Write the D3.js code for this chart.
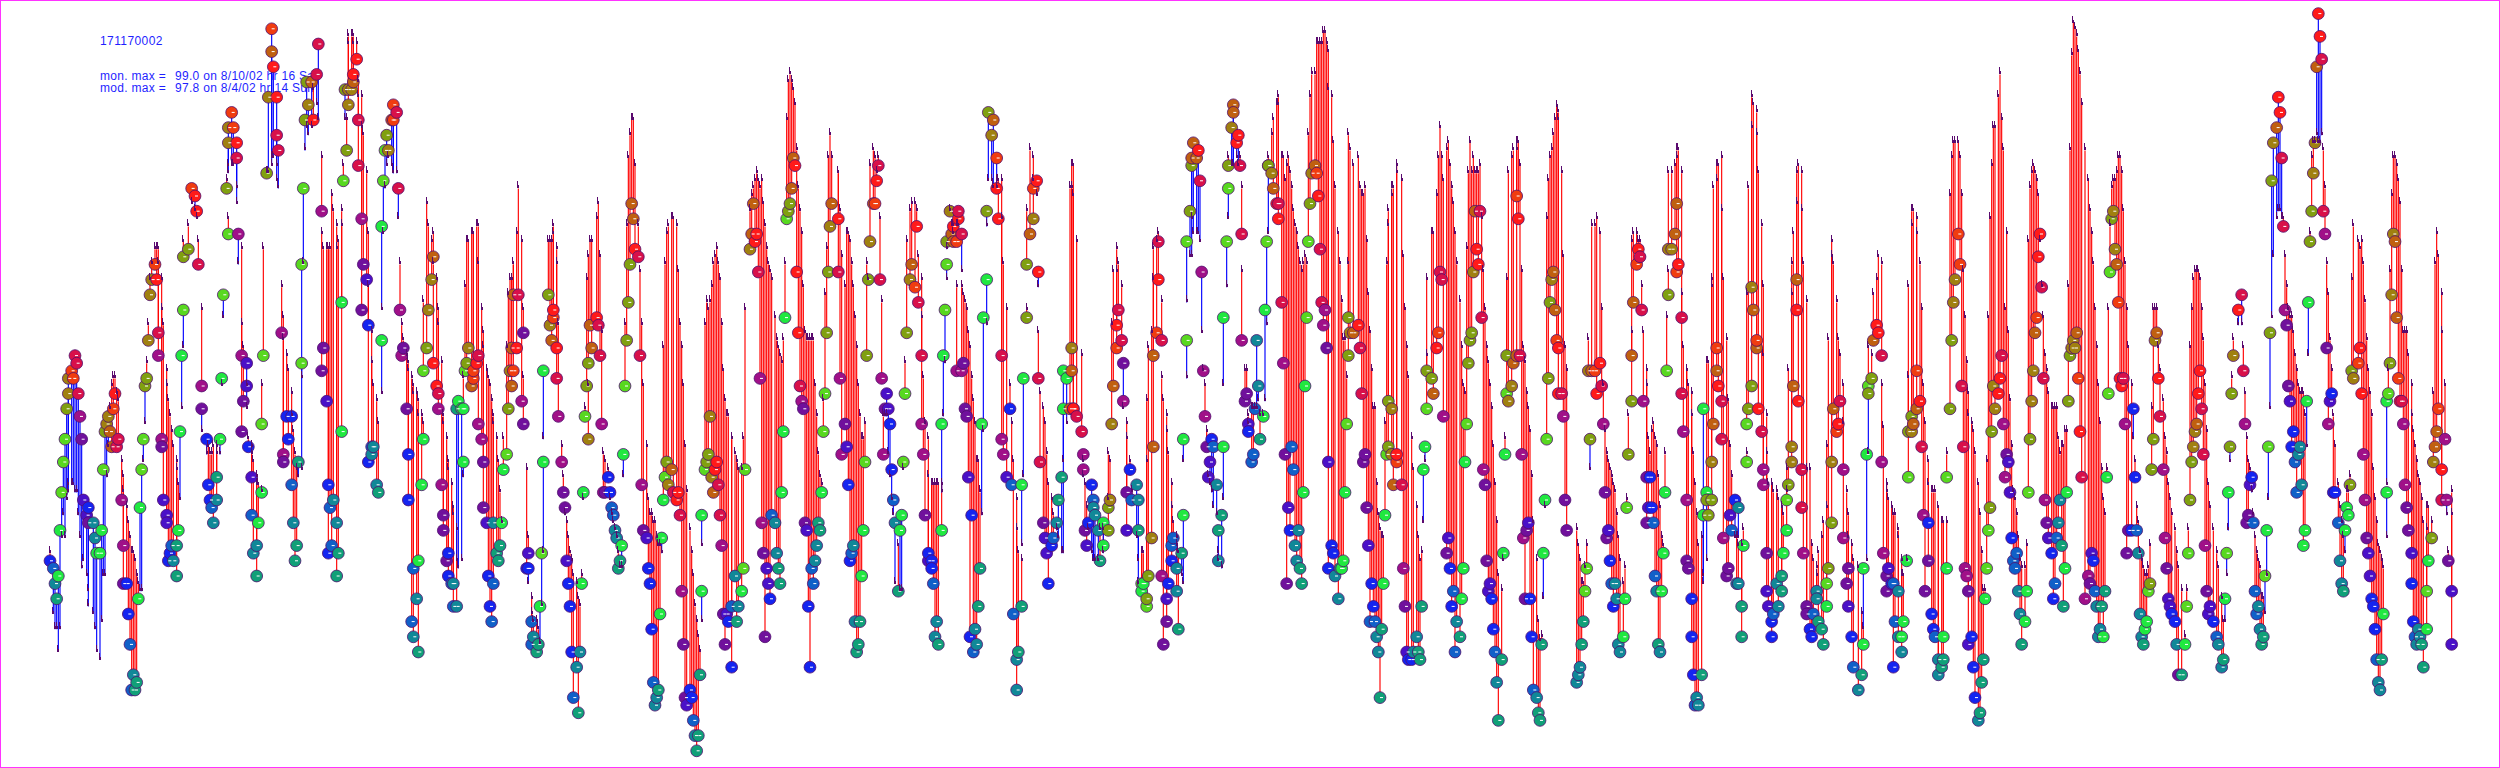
<!DOCTYPE html>
<html>
<head>
<meta charset="utf-8">
<script src="https://cdnjs.cloudflare.com/ajax/libs/d3/7.8.5/d3.min.js"></script>
<style>
html, body { margin: 0; padding: 0; background: #fff; }
svg { display: block; }
</style>
</head>
<body>
<svg id="chart"></svg>
<script>
var CONFIG = {
    "width": 2500,
    "height": 768,
    "hour_max": 1500,
    "dot_radius": 5.9,
};

var siteId = "171170002";
var maxLabels = ["mon. max =", "mod. max ="];
var maxValues = ["99.0 on 8/10/02 hr 16 Sat", "97.8 on 8/4/02 hr 14 Sun"];

// tone of each dot, one letter per hour
var toneNames = ["r", "c", "m", "p", "v", "b", "a", "t", "s", "g", "l", "y", "k", "n", "o"];
var toneColors = ["#ff1a1a", "#d8104a", "#a01088", "#70109c", "#4a10c8", "#1424f0", "#1060c8", "#108898", "#10a078", "#20e840", "#58d820", "#80a010", "#a08010", "#c06010", "#f03c10"];

var hoursA = [30,32,33,34,35,36,37,38,39,40,
    41,41,43,44,45,46,47,48,49,50,
    52,53,53,56,57,58,60,61,62,63,
    64,65,66,67,68,69,70,71,73,74,
    74,76,77,78,79,80,81,82,83,84,
    85,86,87,88,89,90,91,93,94,95,
    95,97,97,98,100,100,101,102,103,104,
    106,106,107,108,109,110,110,113,115,117,
    118,119,121,121,124,125,126,127,128,130,
    130,132,133,134,136,137,137,137,139,140,
    142,142,143,145,145,146,148,148,149,151,
    151,152,154,154,155,157,157,158,160,161,
    163,163,164,166,166,167];
var obsA = [27,26,24,22,25,31,36,40,43,47,
    49,51,52,51,54,53,49,46,43,35,
    33,34,32,32,30,28,28,31,39,44,
    45,46,44,42,47,49,42,43,35,29,
    24,24,20,16,10,12,10,11,22,34,
    39,43,50,51,56,62,64,66,64,57,
    54,43,42,35,33,32,27,28,29,27,
    25,29,31,44,54,60,67,68,76,75,
    73,66,50,47,43,37,35,34,32,35,
    38,43,51,62,76,70,82,84,86,84,
    82,80,70,54,44,48,53,50,42,38,
    33,28,29,25,32,36,45,54,78,88,
    94,97,92,88,83,81];
var modA = [28,20,18,18,15,18,30,33,30,35,
    36,37,37,37,36,36,33,30,26,27,
    25,23,21,20,18,15,14,19,25,25,
    38,42,47,50,51,51,49,48,40,38,
    36,34,32,30,28,28,27,25,24,23,
    23,40,45,53,58,64,66,68,68,68,
    66,64,60,58,52,50,48,46,44,42,
    40,39,37,35,47,55,69,71,74,73,
    72,69,60,44,41,42,41,41,42,42,
    41,41,50,59,77,72,78,79,79,79,
    76,74,66,68,58,55,50,47,43,42,
    41,40,38,37,37,36,50,68,78,78,
    79,80,80,79,77,76];
var toneA = "batsggllly" + "kkoocccmpv" + "vbpttgggly" + "kknnorccmm" + "pbbaatssgg" + "llyykkkorc" + "mmpvvvbbat" + "ssggglyyor" + "rcmpbbbatt" + "sgglylkkoo" + "rcmmppvvbv" + "attsggllyk" + "norrcc";

var hoursB = [169,170,170,172,173,175,175,176,177,178,
    179,181,181,182,183,184,185,187,188,190,
    191,193,193,194,196,197,197,198,199,200,
    202,202,203,205,205,206,207,208,209,209,
    211,212,212,214,215,215,217,217,218,220,
    221,221,223,223,224,226,227,229,229,230,
    231,232,233,235,236,236,238,239,240,241,
    242,244,245,245,247,248,248,250,251,251,
    253,254,254,256,257,259,260,260,262,263,
    263,265,266,266,268,269,269,271,272,272,
    274,274,275,277,278,278,279,280,281,283,
    284,284,286,287,287,289,290,290,292,293,
    294,295,296,296,298,299,300,301,302,304,
    305,306,307,307,308,308,310,311,313,314,
    314,316,317,317,319,319,320,322,323,324,
    325,326,326,329,330,331,332,332,334,334,
    335];
var obsB = [57,41,40,46,43,46,37,32,27,29,
    40,53,66,76,85,90,87,90,85,91,
    95,73,52,55,48,37,28,34,29,35,
    32,25,28,44,61,77,89,81,89,87,
    89,90,91,93,85,79,72,60,66,64,
    58,40,42,41,42,37,36,56,71,77,
    81,83,81,85,87,85,86,76,60,54,
    55,47,41,35,19,26,17,22,15,27,
    37,43,52,55,60,64,67,53,50,49,
    47,37,33,31,27,25,28,24,21,24,
    21,47,48,47,40,47,52,53,55,50,
    51,52,53,54,45,43,40,34,32,25,
    21,19,24,32,28,27,29,32,39,41,
    47,52,50,55,62,52,55,62,48,57,
    45,26,28,26,19,16,17,15,16,21,
    28,40,52,62,58,56,59,60,55,51,
    46];
var modB = [63,59,56,54,52,49,46,44,41,39,
    38,39,51,66,81,84,83,84,89,87,
    85,80,70,68,68,68,68,68,75,73,
    71,68,69,71,73,79,85,85,96,95,
    96,96,95,95,90,88,88,84,83,78,
    70,63,57,53,50,48,45,49,60,70,
    76,79,80,79,78,78,78,72,66,58,
    56,54,53,52,51,50,49,49,48,46,
    46,45,61,74,71,69,70,66,64,60,
    58,53,46,45,43,40,39,37,34,33,
    31,27,26,27,38,51,63,69,69,70,
    70,70,71,71,66,60,57,55,52,51,
    50,48,46,45,43,40,36,32,43,55,
    62,64,64,64,66,66,70,76,69,60,
    51,39,30,24,22,20,19,19,18,16,
    21,28,43,69,69,69,70,71,68,66,
    58];
var toneB = "mmpbbbatss" + "slllyyknrc" + "cmppvbbaat" + "tssgglyykk" + "knrrccmppv" + "bbatttsggl" + "lyknooccmm" + "ppbbaattsg" + "gglykknrrc" + "mmpppbbaat" + "tsgggglykn" + "oorcmmppvb" + "baatsssggl" + "yknnnorcmp" + "pbvbaatssg" + "lggyknorrc" + "m";

var hoursC = [337,338,339,340,341,342,343,344,346,347,
    348,349,350,351,352,353,353,354,355,358,
    359,360,361,362,363,365,366,367,368,369,
    370,371,372,373,374,375,376,377,378,379,
    380,381,383,384,385,386,388,389,390,391,
    392,393,394,395,396,397,398,399,400,401,
    403,404,406,407,408,409,410,411,412,414,
    415,416,417,418,419,420,421,421,423,424,
    425,426,427,428,429,430,431,432,433,434,
    435,436,437,439,439,441,442,443,445,446,
    447,450,451,452,453,454,455,456,457,458,
    459,460,461,462,463,465,466,467,468,469,
    470,471,472,473,474,475,476,477,478,479,
    480,481,482,483,484,485,486,487,488,489,
    490,491,492,493,494,495,496,497,498,499];
var obsC = [40,36,34,27,24,21,15,9,13,7,
    15,24,36,46,50,53,43,58,55,59,
    58,54,45,36,36,38,36,34,33,31,
    30,26,27,29,41,50,56,61,66,74,
    72,68,67,54,37,31,30,26,24,18,
    11,8,9,10,20,30,35,38,40,37,
    39,36,35,36,33,23,16,9,8,10,
    9,6,4,2,4,12,23,33,39,40,
    41,46,38,36,39,40,37,33,29,20,
    16,20,19,21,13,25,19,21,23,26,
    39,68,70,74,69,70,65,51,32,28,
    17,26,24,22,33,32,28,26,24,36,
    44,59,72,73,74,76,80,79,65,57,
    50,48,47,32,31,21,13,26,24,27,
    29,32,31,36,44,49,57,65,71,74];
var modC = [42,38,33,32,30,28,27,25,24,22,
    21,25,35,47,64,67,50,69,69,72,
    74,67,57,41,40,39,35,33,32,31,
    30,28,26,26,38,58,71,80,83,85,
    85,79,71,65,58,50,42,35,33,33,
    32,32,30,29,29,28,55,66,70,71,
    72,72,71,65,58,55,50,42,36,31,
    28,25,21,19,17,15,19,29,58,61,
    60,61,63,66,67,68,66,64,58,52,
    48,46,46,43,43,41,40,39,39,43,
    60,73,75,76,77,78,77,76,77,74,
    71,68,66,65,64,59,56,55,54,53,
    56,66,85,90,91,90,89,87,81,76,
    73,70,63,57,56,56,56,56,56,50,
    46,41,38,37,48,62,68,80,83,80];
var toneC = "mppvbbbats" + "tgglyyknnr" + "ccmmpbbaat" + "tssgglyyyn" + "nrccmpvbbb" + "attsggglyk" + "ncrrcmppvb" + "batsssggly" + "ykknrrccmp" + "pvbabtstgl" + "lknnrrcmmp" + "pvvbattssg" + "gglyynnrrr" + "cmppvbbaat" + "tssgllyykn";

var hoursD = [503,503,504,505,507,508,509,510,511,512,
    513,514,515,516,517,518,519,520,521,522,
    524,525,526,527,528,529,530,531,532,533,
    534,535,536,537,539,540,541,542,543,544,
    546,547,549,550,551,553,553,554,555,557,
    557,559,559,560,561,562,563,565,565,566,
    567,568,568,570,571,572,572,574,575,575,
    577,574,577,578,579,580,581,582,583,584,
    585,586,587,588,589,590,592,592,593,595,
    596,598,598,599,601,601,602,604,606,607,
    608,610,610,611,613,613,614,616,616,618,
    620,620,622,623,623,624,626,627,628,629,
    631,632,634,635,637,638,638,640,642,643,
    643,644,644,646,649,650,650,651,652,653,
    655,656,656,657,659,660,662,662,665,665,
    666,667];
var obsD = [72,65,51,41,45,42,37,27,28,29,
    19,15,16,19,25,31,40,54,64,69,
    74,74,77,79,64,51,41,47,49,47,
    45,39,35,32,23,31,33,40,49,57,
    64,66,63,71,61,54,45,41,33,27,
    28,27,26,24,17,19,16,31,45,54,
    60,66,69,73,70,69,71,69,72,73,
    70,52,52,53,47,46,38,17,33,15,
    18,16,21,26,45,59,64,73,86,83,
    85,80,76,72,54,43,41,38,47,37,
    20,14,10,15,21,37,51,59,66,70,
    72,76,77,65,51,40,32,30,28,24,
    29,30,32,35,38,47,52,51,47,55,
    52,47,47,46,44,41,39,31,29,32,
    37,35,34,33,31,27,29,32,34,31,
    35,45];
var modD = [78,78,73,67,63,70,70,69,66,63,
    59,55,50,46,43,43,45,66,64,79,
    81,80,78,80,72,61,46,46,46,41,
    38,35,33,24,29,23,23,39,53,69,
    73,74,74,73,67,64,59,51,45,43,
    38,37,37,37,37,37,37,37,36,46,
    53,64,68,73,71,70,71,71,71,71,
    65,63,63,62,61,60,57,55,51,48,
    45,40,40,36,33,44,58,71,77,77,
    76,76,77,77,77,72,66,60,50,45,
    40,35,31,28,27,29,38,60,73,81,
    80,77,75,63,57,49,47,45,41,37,
    35,33,31,30,28,28,40,45,76,76,
    79,79,75,69,54,40,38,37,34,31,
    28,27,27,27,27,31,31,28,35,41,
    40,58];
var toneD = "rcmmpvbbat" + "tsssgglyyk" + "norccmmpvv" + "bbatsgglly" + "knorccmmpv" + "bbbattsggg" + "llyknnrorc" + "cmmpppvbba" + "ttssgggyyk" + "norrcmmvba" + "attssggyyn" + "korrccpvvb" + "batssgggnk" + "nnrccmmpvb" + "batttsggyy" + "kk";

var hoursE = [668,670,670,671,673,674,674,676,676,678,
    679,682,683,683,685,685,686,688,688,689,
    691,692,692,694,695,695,697,697,698,700,
    700,701,703,703,704,706,706,707,709,710,
    710,712,712,714,715,715,716,718,719,720,
    721,722,723,724,725,726,727,728,730,731,
    731,733,734,734,736,737,737,739,740,740,
    742,743,744,745,745,747,748,749,749,751,
    752,753,754,755,756,758,759,760,761,761,
    763,764,766,767,767,769,770,771,772,773,
    774,775,776,777,778,779,780,781,782,783,
    784,785,786,787,789,790,791,792,793,794,
    795,796,797,797,799,800,801,803,804,805,
    806,807,808,809,809,810,812,815,816,817,
    818,819,820,821,822,823,824,825,826,827,
    828,829,830,831,832,833,833,835];
var obsE = [50,55,58,60,56,53,48,36,31,39,
    35,37,35,31,24,23,24,21,22,25,
    30,42,54,57,64,69,56,25,16,19,
    22,24,27,29,30,26,23,18,28,33,
    43,56,69,73,79,80,82,80,81,77,
    65,52,46,42,38,40,43,42,37,27,
    31,33,42,59,69,76,79,84,87,86,
    82,83,79,70,56,48,49,45,44,40,
    41,47,56,50,43,46,60,69,79,79,
    78,76,74,72,74,61,53,41,24,34,
    31,42,39,29,27,31,26,24,36,50,
    59,69,74,78,79,78,75,68,61,58,
    60,55,40,26,29,28,25,22,26,26,
    27,36,45,54,59,57,57,58,55,49,
    40,41,34,29,19,24,21,19,17,15,
    9,18,24,33,41,42,48,47];
var modE = [65,68,65,66,63,47,47,45,43,40,
    36,30,27,24,28,28,28,40,48,55,
    57,64,68,69,70,70,61,51,48,46,
    44,41,37,34,32,30,29,28,25,24,
    40,51,61,67,67,72,70,70,70,69,
    57,52,50,44,38,37,36,34,33,28,
    27,26,35,50,63,72,80,79,79,79,
    80,79,80,76,65,52,52,46,45,47,
    47,47,47,48,46,46,48,58,70,80,
    83,85,87,87,88,80,80,77,79,80,
    78,76,73,71,70,68,66,65,66,67,
    66,83,88,91,91,95,95,95,95,96.5,
    96.5,95,94,89,88,82,76,70,66,61,
    56,56,51,66,83,81,79,80,76,75,
    75,76,69,62,57,52,47,47,37,33,
    31,30,30,45,66,71,73,75];
var toneE = "norccpmpvb" + "attslgglyy" + "knnorccmpp" + "vbbaattssg" + "gllyynnnrc" + "mmmpvvbatt" + "ssggllyknn" + "rrccmppvba" + "aattsgglyy" + "knrrccmppv" + "baatttssgg" + "llyknorccm" + "mpvbbbttsg" + "gglyyknrcc" + "pppvabbatt" + "ssgglyyk";

var hoursF = [835,836,838,838,841,842,843,844,845,847,
    848,850,851,852,853,854,855,856,856,859,
    860,862,863,864,865,866,868,869,870,871,
    872,873,874,876,877,878,879,880,881,882,
    883,884,885,886,887,888,889,890,891,892,
    893,894,895,896,897,898,899,901,902,903,
    904,904,905,907,908,910,910,911,912,913,
    914,915,916,917,918,919,920,922,923,924,
    925,926,927,928,929,930,931,932,933,934,
    935,935,937,938,939,940,946,947,948,949,
    950,951,952,953,954,955,957,958,960,961,
    962,963,964,965,966,967,968,969,970,971,
    972,974,975,976,977,979,979,980,982,983,
    984,985,986,988,988,989,990,991,992,993,
    994,995,996,997,998,999,1000,1001,1001];
var obsF = [41,37,40,41,37,26,21,15,14,14,
    15,17,15,14,21,39,42,52,47,51,
    49,55,57,65,64,46,28,30,26,21,
    23,15,19,17,22,26,40,45,53,56,
    57,65,73,68,66,73,59,39,37,27,
    23,24,22,18,15,11,6,14,28,41,
    49,54,48,50,53,75,54,72,54,41,
    30,22,31,32,22,17,10,9,7,6,
    16,28,35,43,51,61,64,65,60,56,
    49,55,49,46,35,31,11,12,13,16,
    19,23,26,52,43,52,52,49,53,50,
    45,36,30,31,27,24,21,24,22,16,
    15,17,22,34,41,48,54,61,66,68,
    67,60,48,38,32,34,38,34,32,25,
    23,16,15,23,28,36,52,62,68];
var modF = [76,76,78,79,77,67,60,55,51,43,
    39,34,30,27,28,32,40,64,54,70,
    70,75,80,84,80,77,81,82,79,76,
    74,70,66,61,55,50,49,68,78,82,
    78,80,78,78,78,79,72,65,60,55,
    53,50,47,42,37,32,25,23,27,43,
    64,64,78,80,81,81,82,82,79,65,
    55,53,49,47,44,38,32,27,19,16.5,
    17,22,34,72,77,80,81,83,85,86.7,
    86,85,78,67,55,52,31,29,27,24,
    24,26,29,56,39,71,71,72,70,60,
    50,44,41,40,39,38,37,36,33,30,
    27,24,26,35,46,57,69,70,70,69,
    69,63,57,52,50,43,41,44,45,43,
    42,38,34,30,29,41,59,65,78];
var toneF = "knorcmpvbb" + "ttsssggyly" + "nroccmpvbb" + "aatsggglyy" + "yknrrccmpp" + "vvbbatssgg" + "lykknonrcm" + "mppvbbatss" + "sgglyyknno" + "rrcmppttts" + "sllkynorrc" + "mppvbabttt" + "tgglyynnor" + "ccmppvbbaa" + "tstggglyk";

var hoursG = [1003,1005,1006,1006,1007,1009,1009,1010,1012,1012,
    1013,1015,1015,1016,1017,1018,1019,1021,1022,1022,
    1024,1024,1025,1027,1027,1028,1030,1030,1031,1033,
    1033,1034,1036,1037,1038,1039,1041,1042,1043,1043,
    1045,1045,1046,1048,1048,1049,1051,1051,1052,1054,
    1054,1055,1057,1058,1058,1060,1060,1061,1063,1063,
    1064,1066,1067,1069,1069,1070,1072,1072,1073,1075,
    1075,1076,1078,1078,1079,1081,1081,1082,1084,1084,
    1086,1087,1088,1090,1090,1091,1093,1094,1096,1096,
    1097,1099,1099,1100,1102,1103,1104,1106,1106,1108,
    1109,1109,1111,1112,1115,1117,1118,1118,1120,1121,
    1121,1123,1124,1126,1127,1129,1129,1130,1132,1132,
    1133,1135,1136,1136,1137,1139,1139,1141,1141,1142,
    1144,1145,1145,1147,1147,1148,1150,1150,1152,1153,
    1154,1155,1157,1157,1159,1160,1161,1163,1163,1165,
    1166,1166,1168,1168];
var obsG = [68,70,74,65,66,59,49,44,35,27,
    26,22,17,12,8,9,8,12,33,47,
    36,35,33,35,40,45,52,55,50,48,
    43,30,25,26,33,31,35,24,34,24,
    17,21,29,40,45,47,50,63,60,55,
    56,47,44,39,37,28,23,21,19,17,
    20,24,21,23,25,28,31,35,37,40,
    42,50,64,60,48,39,34,28,21,20,
    18,17,20,23,22,19,18,16,21,24,
    26,32,40,47,44,45,48,39,30,24,
    26,21,17,13,10,12,16,26,41,50,
    49,51,56,58,57,54,40,28,25,23,
    26,24,13,24,19,23,17,15,17,19,
    27,38,44,46,44,45,47,52,48,42,
    33,23,27,32,20,18,17,14,12,13,
    14,17,26,38];
var modG = [78,79,80,81,81,78,62,55,52,52,
    50,49,46,41,37,33,29,30,24,25,
    27,53,53,63,64,76,77,79,79,80,
    73,64,56,48,42,38,30,30,30,29,
    29,29,31,41,62,76,84,88,87,86,
    83,78,71,63,54,46,41,37,37,37,
    36,36,35,34,34,33,39,36,52,62,
    66,70,74,78,79,78,73,66,61,39,
    39,29,27,25,26,28,30,32,34,42,
    56,67,69,66,61,56,54,50,45,36,
    33,30,29,27,26,20,18,18,27,55,
    41,54,62,64,67,66,50,44.5,37,36,
    35,34,33,33,33,31,30,27,25,25,
    27,51,63,71,73,73,72,70,66,60,
    50,45,40,37,36,36,36,34,34,32,
    32,32,32,41];
var toneG = "knnorccmmp" + "pbbbattsgg" + "gyyyknnorc" + "cmppvabttt" + "ssgllyyknn" + "orcmmpvvbb" + "attssgglyk" + "knnrrccmpp" + "bbattsssgl" + "yyknorcmmp" + "pvbatsgggl" + "yynrrcmmpp" + "vbbaatttgg" + "glyyknnorc" + "mppbbbatts" + "sggl";

var hoursH = [1170,1171,1172,1173,1175,1176,1177,1178,1179,1180,
    1181,1181,1183,1184,1185,1187,1188,1189,1190,1191,
    1192,1193,1194,1195,1196,1197,1199,1200,1201,1202,
    1203,1204,1205,1206,1207,1208,1209,1210,1211,1212,
    1213,1215,1216,1217,1218,1219,1220,1221,1222,1223,
    1224,1225,1226,1227,1228,1229,1231,1232,1233,1234,
    1235,1236,1237,1238,1239,1240,1241,1242,1243,1244,
    1245,1246,1247,1248,1249,1251,1253,1254,1255,1256,
    1257,1258,1259,1260,1261,1262,1263,1264,1265,1266,
    1267,1268,1269,1270,1271,1272,1273,1274,1275,1276,
    1277,1279,1280,1281,1282,1283,1284,1285,1286,1287,
    1288,1289,1290,1291,1292,1293,1294,1295,1296,1298,
    1299,1300,1301,1302,1303,1305,1306,1307,1309,1311,
    1312,1313,1314,1315,1316,1317,1318,1319,1320,1321,
    1322,1323,1324,1325,1326,1328,1330,1331,1333,1334,1335];
var obsH = [47,56,61,64,70,66,50,42,26,25,
    23,16,17,13,9,6,7,11,14,22,
    26,31,34,44,50,47,49,51,54,45,
    38,41,40,36,30,27,26,28,23,20,
    16,19,23,36,43,48,52,57,59,67,
    70,63,51,35,32,30,28,22,24,30,
    32,35,29,21,26,36,48,54,55,56,
    55,57,51,44,38,22,25,24,28,27,
    23,21,17,18,21,17,23,38,49,65,
    72,73,68,66,61,51,50,51,45,28,
    31,31,47,38,31,28,20,17,16,18,
    19,23,24,39,43,56,57,51,46,39,
    30,26,22,21,20,19,16,12,12,16,
    21,28,35,40,42,44,45,49,52,47,
    41,29,23,20,21,19,17,16,13,14,22];
var modH = [75,80,82,82,82,80,75,65,59,53,
    49,46,45,44,41,37,33,28,23,23,
    40,59,72,79,84,84,88,91,85,81,
    60,70,57,48,42,36,35,33,30,27,
    26,26,29,69,76,78,79,78,77,75,
    69,63,59,54,52,49,47,47,47,47,
    43,41,42,42,44,44,63,81,93.5,97.8,
    97,96,94,91,87,81,77,73,70,66,
    60,55,50,45,39,35,33,39,60,71,
    76,77,77,78,80,80,78,73,66,60,
    55,50,43,40,34,32,28,27,26,25,
    25,26,29,47,60,60,60,55,52,48,
    43,41,37,35,33,31,28,26,23,17,
    23,31,55,60,64,65,65,65,64,60,
    56,50,44,37,34,31,28,26,22,19,19];
var toneH = "yykkooccmm" + "pvbbbtsssg" + "llyykkrrcm" + "mpvvbaaatt" + "sgglykknor" + "rccmpvbbaa" + "ttssggyykk" + "knorcmmpvb" + "atttsgsgll" + "ykknorrcmp" + "pbbbatttsg" + "glyyyknrcm" + "mpvvbbtpsg" + "llyykknrrc" + "cmpvvbattsg";

var hoursI = [1336,1337,1338,1339,1340,1343,1345,1346,1347,1348,
    1349,1350,1351,1352,1353,1354,1355,1356,1357,1358,
    1359,1360,1361,1362,1363,1364,1366,1367,1368,1369,
    1370,1371,1372,1373,1374,1375,1376,1377,1378,1379,
    1380,1381,1382,1383,1384,1385,1386,1387,1388,1389,
    1390,1391,1392,1393,1394,1395,1396,1397,1398,1399,
    1400,1401,1403,1404,1405,1406,1407,1408,1409,1410,
    1411,1412,1415,1416,1417,1418,1419,1420,1421,1422,
    1423,1424,1425,1426,1427,1428,1429,1430,1432,1432,
    1433,1434,1435,1436,1437,1438,1439,1440,1441,1442,
    1443,1444,1445,1447,1447,1448,1449,1450,1451,1452,
    1453,1454,1456,1456,1457,1459,1460,1461,1462,1463,
    1465,1465,1467,1468,1469,1471,1471];
var obsI = [28,36,42,49,54,60,62,52,45,32,
    33,37,38,32,23,20,21,18,16,17,
    25,31,42,57,77,82,84,88,86,80,
    71,60,58,50,48,42,44,40,36,41,
    42,37,29,31,48,61,69,73,78,82,
    92,99,96,93,73,70,55,45,48,49,
    36,36,32,27,24,23,31,34,33,37,
    52,51,53,55,49,41,35,30,28,25,
    22,21,18,14,11,10,14,20,36,48,
    49,53,62,70,69,59,51,48,48,45,
    37,34,31,28,24,19,17,16,18,17,
    16,13,18,23,27,30,40,42,44,47,
    39,35,43,35,27,23,16];
var modI = [25,31,40,51,56,58,58,55,49,43,
    40,39,36,33,30,28,27,26,22,22,
    20,25,35,47,59,67,72,73,73,72,
    72,67,63,60,59,59,57,54,52,50,
    49,49,49,46,42,54,70,80,82,82,
    83,82,82,83,81,76,66,62,56,52,
    46,42,37,34,32,30,28,36,36,38,
    64,71,69,68,69,66,61,56,52,49,
    46,39,35,32,29,28,27,26,30,37,
    52,65,75,80,80,79,77,74,65,57,
    57,57,54,50,46,44,42,40,38,37,
    35,32,31,34,34,32,49,66,70,67,
    62,57,50,33,28,33,36];
var toneI = "lgyykrccmp" + "pvbaaattss" + "lglyyknrrc" + "cmppvbbaat" + "ttggggyykk" + "nrrccmpmvb" + "bbattsgggy" + "ykorrmmpvv" + "bbbattsggg" + "lykknnorcm" + "mppvbbattt" + "ssglgyknno" + "rcmmpvv";

var hours = [].concat(hoursA, hoursB, hoursC, hoursD, hoursE, hoursF, hoursG, hoursH, hoursI);
var obs = [].concat(obsA, obsB, obsC, obsD, obsE, obsF, obsG, obsH, obsI);
var mod = [].concat(modA, modB, modC, modD, modE, modF, modG, modH, modI);
var tones = (toneA + toneB + toneC + toneD + toneE + toneF + toneG + toneH + toneI).split("");

// 检查各数组长度
if (hours.length !== obs.length || hours.length !== mod.length || hours.length !== tones.length) {
    throw new Error("length mismatch " + [hours.length, obs.length, mod.length, tones.length].join(","));
}

var points = hours.map(function(h, i) {
    return { "hour": h, "obs": obs[i], "mod": mod[i], "tone": tones[i] };
});

var x = d3.scaleLinear().domain([0, CONFIG.hour_max]).range([0, CONFIG.width]);
var y = d3.scaleLinear().domain([0, 100]).range([766, 6]);
var tone_scale = d3.scaleOrdinal().domain(toneNames).range(toneColors);

var svg = d3.select("#chart")
    .attr("width", CONFIG.width)
    .attr("height", CONFIG.height);

svg.append("rect")
    .attr("x", 0.5).attr("y", 0.5)
    .attr("width", CONFIG.width - 1).attr("height", CONFIG.height - 1)
    .attr("fill", "#fff")
    .attr("stroke", "#ff33ff");

// 标题文字
var text_layout = svg.append("g")
    .attr("font-family", "'Liberation Sans', Arial, sans-serif")
    .attr("font-size", 12)
    .attr("fill", "#1f1fff");
text_layout.append("text").attr("x", 100).attr("y", 45).attr("letter-spacing", 0.4).text(siteId);
maxLabels.forEach(function(label, i) {
    text_layout.append("text").attr("x", 100).attr("y", 80 + i * 12).attr("letter-spacing", 0.3).text(label);
    text_layout.append("text").attr("x", 175).attr("y", 80 + i * 12).attr("letter-spacing", 0.3).text(maxValues[i]);
});

var line_layout = svg.append("g");
var dot_layout = svg.append("g");
var stub_layout = svg.append("g").attr("shape-rendering", "crispEdges");

line_layout.selectAll("line")
    .data(points)
    .join("line")
    .attr("x1", function(d) { return x(d.hour); })
    .attr("x2", function(d) { return x(d.hour); })
    .attr("y1", function(d) { return y(d.obs); })
    .attr("y2", function(d) { return y(d.mod); })
    .attr("stroke", function(d) { return d.mod > d.obs ? "#ff0000" : "#0000ff"; })
    .attr("stroke-width", 1.15);

dot_layout.selectAll("circle")
    .data(points)
    .join("circle")
    .attr("cx", function(d) { return x(d.hour); })
    .attr("cy", function(d) { return y(d.obs); })
    .attr("r", CONFIG.dot_radius)
    .attr("fill", function(d) { return tone_scale(d.tone); })
    .attr("stroke", "#4f0f6e")
    .attr("stroke-width", 0.8);

dot_layout.selectAll("path")
    .data(points)
    .join("path")
    .attr("d", function(d) {
        return "M" + x(d.hour) + "," + y(d.obs) + "h3";
    })
    .attr("stroke", "#fff")
    .attr("stroke-width", 1);

// 模型值标记: 下半粗, 上半细
stub_layout.selectAll("path")
    .data(points)
    .join("path")
    .attr("d", function(d) {
        var px = Math.round(x(d.hour)), py = Math.round(y(d.mod));
        return "M" + (px - 1) + "," + py + "v-3h2v3z M" + (px - 1) + "," + (py - 3) + "v-4h1v4z";
    })
    .attr("fill", "#5a0a6e");
</script>
</body>
</html>
